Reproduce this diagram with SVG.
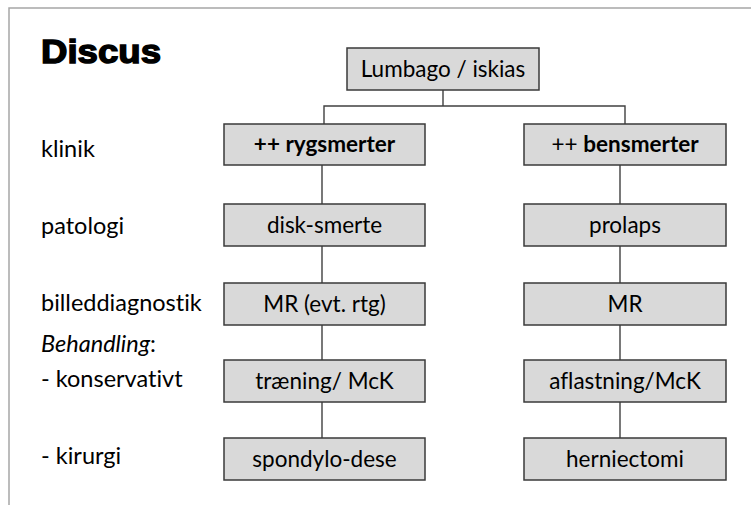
<svg xmlns="http://www.w3.org/2000/svg" width="751" height="505" viewBox="0 0 751 505">
<style>
.bg{fill:#ffffff}
.frame{fill:none;stroke:#a6a6a6;stroke-width:1.5}
.box{fill:#d9d9d9;stroke:#3a3a3a;stroke-width:1.5}
.lbl{font-family:Lato,"Liberation Sans",sans-serif;font-size:23.5px;fill:#000;font-variant-ligatures:none}
.bt{font-family:Lato,"Liberation Sans",sans-serif;font-size:22.5px;fill:#000;text-anchor:middle;font-variant-ligatures:none}
.b{font-weight:bold}
.title{font-family:"Liberation Sans",Arial,sans-serif;font-weight:bold;font-size:33px;fill:#000;stroke:#000;stroke-width:1.4}
.con{fill:none;stroke:#404040;stroke-width:1.4}
</style>
<rect class="bg" x="0" y="0" width="751" height="505"/>
<path class="frame" d="M9,505 V8 H751"/>
<text class="title" x="41" y="63" textLength="120" lengthAdjust="spacingAndGlyphs">Discus</text>
<g id="labels">
<text class="lbl" x="41" y="157">klinik</text>
<text class="lbl" x="41" y="234">patologi</text>
<text class="lbl" x="41" y="311">billeddiagnostik</text>
<text class="lbl" x="41" y="352" font-style="italic">Behandling<tspan font-style="normal">:</tspan></text>
<text class="lbl" x="41" y="387">- konservativt</text>
<text class="lbl" x="41" y="464">- kirurgi</text>
</g>
<g id="connectors">
<path class="con" d="M443,90 V106 M324,124 V106 H625 V124"/>
<path class="con" d="M322,165 V204 M322,246 V283 M322,325 V360 M322,402 V438"/>
<path class="con" d="M620,165 V204 M620,246 V283 M620,325 V360 M620,402 V438"/>
</g>
<g id="n-lumbago"><rect class="box" x="347" y="48" width="192" height="42"/><text class="bt" x="443" y="77">Lumbago / iskias</text></g>
<g id="n-rygsmerter"><rect class="box" x="224" y="124" width="201" height="41"/><text class="bt b" x="324.5" y="152">++ rygsmerter</text></g>
<g id="n-bensmerter"><rect class="box" x="524" y="124" width="202" height="41"/><text class="bt" x="625" y="152">++ <tspan font-weight="bold">bensmerter</tspan></text></g>
<g id="n-disk"><rect class="box" x="224" y="204" width="201" height="42"/><text class="bt" x="324.5" y="233">disk-smerte</text></g>
<g id="n-prolaps"><rect class="box" x="524" y="204" width="202" height="42"/><text class="bt" x="625" y="233">prolaps</text></g>
<g id="n-mr1"><rect class="box" x="224" y="283" width="201" height="42"/><text class="bt" x="324.5" y="312">MR (evt. rtg)</text></g>
<g id="n-mr2"><rect class="box" x="524" y="283" width="202" height="42"/><text class="bt" x="625" y="312">MR</text></g>
<g id="n-traening"><rect class="box" x="224" y="360" width="201" height="42"/><text class="bt" x="324.5" y="389">træning/ McK</text></g>
<g id="n-aflastning"><rect class="box" x="524" y="360" width="202" height="42"/><text class="bt" x="625" y="389">aflastning/McK</text></g>
<g id="n-spondylo"><rect class="box" x="224" y="438" width="201" height="42"/><text class="bt" x="324.5" y="467">spondylo-dese</text></g>
<g id="n-hernie"><rect class="box" x="524" y="438" width="202" height="42"/><text class="bt" x="625" y="467">herniectomi</text></g>
</svg>
